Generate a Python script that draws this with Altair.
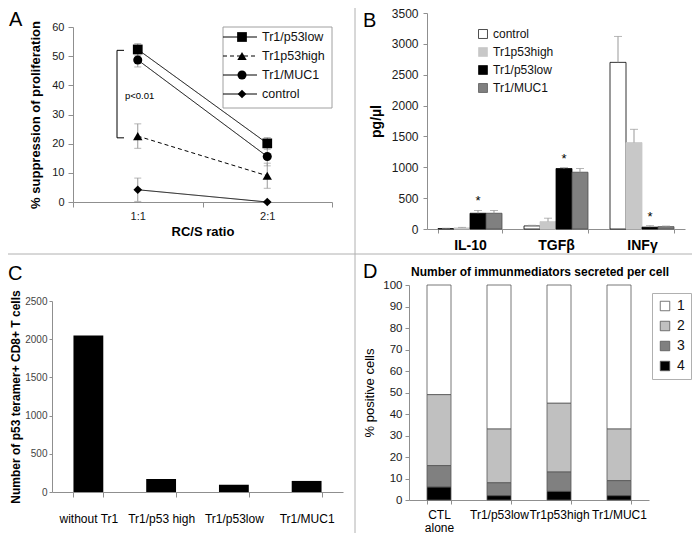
import altair as alt
import pandas as pd

FONT = "Liberation Sans"
AX = "#8f8f8f"
DIV = "#b0b0b0"
W, H = 684, 525

# ---------------- Panel A data ----------------
a_ratio = ["1:1", "2:1"]
a_series = ["Tr1/p53low", "Tr1p53high", "Tr1/MUC1", "control"]
a_p53low = [52.3, 20.1]
a_p53low_err = [2.0, 2.0]
a_p53high = [22.6, 9.0]
a_p53high_err = [4.2, 4.3]
a_muc1 = [48.7, 15.6]
a_muc1_err = [2.4, 3.2]
a_control = [4.2, 0.0]
a_control_err = [4.0, 0.0]
a_bracket = [52.0, 22.0]
a_bracket_label = "p<0.01"
a_shapes = ["square", "triangle-up", "circle", "diamond"]
a_sizes = [95, 75, 70, 70]
a_dash = [[1, 0], [4, 3], [1, 0], [1, 0]]

# ---------------- Panel B data ----------------
b_cyto = ["IL-10", "TGFβ", "INFγ"]
b_groups = ["control", "Tr1p53high", "Tr1/p53low", "Tr1/MUC1"]
b_control = [8, 50, 2700]
b_control_err = [4, 10, 420]
b_high = [18, 120, 1400]
b_high_err = [8, 55, 215]
b_low = [255, 980, 30]
b_low_err = [45, 15, 25]
b_muc1 = [255, 920, 38]
b_muc1_err = [45, 60, 10]
b_fill = ["#ffffff", "#c8c8c8", "#000000", "#808080"]
b_stroke = ["#000000", "#c8c8c8", "#000000", "#4d4d4d"]

# ---------------- Panel C data ----------------
c_cats = ["without Tr1", "Tr1/p53 high", "Tr1/p53low", "Tr1/MUC1"]
c_vals = [2050, 170, 95, 145]

# ---------------- Panel D data ----------------
d_cats = ["CTL alone", "Tr1/p53low", "Tr1p53high", "Tr1/MUC1"]
d_levels = ["1", "2", "3", "4"]
d_1 = [51, 67, 55, 67]
d_2 = [33, 25, 32, 24]
d_3 = [10, 6, 9, 7]
d_4 = [6, 2, 4, 2]
d_fill = ["#ffffff", "#c0c0c0", "#808080", "#000000"]
d_title = "Number of immunmediators secreted per cell"

one = pd.DataFrame({"z": [0]})


def label_text(t, x, y, size=20, weight="normal", align="left"):
    return alt.Chart(one).mark_text(
        text=t, fontSize=size, fontWeight=weight, align=align, baseline="alphabetic", color="black"
    ).encode(x=alt.value(x), y=alt.value(y))


# plot-area rectangles inside the 684x525 drawing (left, right, top, bottom)
AL, AR, AT, AB = 65, 324, 19, 194
BL, BR, BT, BB = 419, 677, 5, 221
CL, CR, CT, CB = 44, 335, 293, 484
DL, DR, DT, DB = 401, 641, 277, 492

# ================= Panel A =================
rows = []
for s, vals, errs in zip(a_series, [a_p53low, a_p53high, a_muc1, a_control],
                         [a_p53low_err, a_p53high_err, a_muc1_err, a_control_err]):
    for r, v, e in zip(a_ratio, vals, errs):
        rows.append(dict(series=s, ratio=r, value=v, err=e, lo=v - e, hi=v + e))
dfA = pd.DataFrame(rows)

xA = alt.X("ratio:N",
           scale=alt.Scale(type="band", domain=a_ratio, range=[AL, AR], paddingInner=0, paddingOuter=0),
           axis=alt.Axis(orient="bottom", offset=AB - H, title="RC/S ratio", labelAngle=0,
                         tickBand="extent", tickSize=5, labelPadding=3, titlePadding=4,
                         labelFontSize=11, titleFontSize=13))
yA = alt.Y("value:Q", scale=alt.Scale(domain=[0, 60], range=[AB, AT], nice=False),
           axis=alt.Axis(orient="left", offset=-AL, values=list(range(0, 61, 10)), format="d",
                         title="% suppression of proliferation", tickSize=5, labelPadding=4,
                         titlePadding=9, labelFontSize=11, titleFontSize=13))
dashA = alt.StrokeDash("series:N", scale=alt.Scale(domain=a_series, range=a_dash), legend=None)
shapeA = alt.Shape("series:N", scale=alt.Scale(domain=a_series, range=a_shapes), legend=None)
sizeA = alt.Size("series:N", scale=alt.Scale(domain=a_series, range=a_sizes), legend=None)

baseA = alt.Chart(dfA)
errA = baseA.transform_filter("datum.err > 0").mark_rule(color="#999999").encode(
    x=xA, y=alt.Y("lo:Q"), y2="hi:Q")
capLoA = baseA.transform_filter("datum.err > 0").mark_tick(color="#999999", size=7, thickness=1).encode(
    x=xA, y="lo:Q")
capHiA = baseA.transform_filter("datum.err > 0").mark_tick(color="#999999", size=7, thickness=1).encode(
    x=xA, y="hi:Q")
linesA = baseA.mark_line(color="black", strokeWidth=1).encode(
    x=xA, y=yA, detail="series:N", strokeDash=dashA)
ptsA = baseA.mark_point(filled=True, opacity=1, color="black").encode(
    x=xA, y="value:Q", shape=shapeA, size=sizeA)

dfBr = pd.DataFrame({"top": [a_bracket[0]], "bot": [a_bracket[1]],
                     "mid": [sum(a_bracket) / 2], "label": [a_bracket_label]})
brV = alt.Chart(dfBr).mark_rule(color="black").encode(x=alt.value(AL + 44), y="top:Q", y2="bot:Q")
brH = alt.Chart(pd.DataFrame({"v": a_bracket})).mark_rule(color="black").encode(
    x=alt.value(AL + 44), x2=alt.value(AL + 51), y="v:Q")
brT = alt.Chart(dfBr).mark_text(align="left", baseline="middle", fontSize=9.5, dy=2).encode(
    x=alt.value(AL + 52), y="mid:Q", text="label:N")

mainA = alt.layer(errA, capLoA, capHiA, linesA, ptsA, brV, brH, brT)

dfLeg = pd.DataFrame({"series": a_series})
yLeg = alt.Y("series:N", scale=alt.Scale(type="point", domain=a_series, range=[29, 86], padding=0),
             axis=None)
legBox = alt.Chart(one).mark_rect(fill="white", stroke="#a0a0a0", strokeWidth=1).encode(
    x=alt.value(215), x2=alt.value(324), y=alt.value(19), y2=alt.value(100))
legLine = alt.Chart(dfLeg).mark_rule(color="black", strokeWidth=1).encode(
    x=alt.value(215), x2=alt.value(249), y=yLeg, strokeDash=dashA)
legPts = alt.Chart(dfLeg).mark_point(filled=True, opacity=1, color="black").encode(
    x=alt.value(234), y=yLeg, shape=shapeA, size=sizeA)
legTxt = alt.Chart(dfLeg).mark_text(align="left", baseline="middle", fontSize=12.5, color="#111").encode(
    x=alt.value(254), y=yLeg, text="series:N")
legA = alt.layer(legBox, legLine, legPts, legTxt)

A = alt.layer(mainA, legA).resolve_scale(y="independent")

# ================= Panel B =================
rows = []
for g, vals, errs in zip(b_groups, [b_control, b_high, b_low, b_muc1],
                         [b_control_err, b_high_err, b_low_err, b_muc1_err]):
    for c, v, e in zip(b_cyto, vals, errs):
        rows.append(dict(group=g, cyto=c, value=v, hi=v + e))
dfB = pd.DataFrame(rows)

xB = alt.X("cyto:N", scale=alt.Scale(domain=b_cyto, range=[BL, BR], paddingInner=0.256, paddingOuter=0.128),
           axis=alt.Axis(orient="bottom", offset=BB - H, title=None, labelAngle=0, labelFontWeight="bold",
                         labelFontSize=14, labelColor="black", tickBand="extent", tickSize=4,
                         labelPadding=5))
xoB = alt.XOffset("group:N", scale=alt.Scale(domain=b_groups, paddingInner=0, paddingOuter=0))
yB = alt.Y("value:Q", scale=alt.Scale(domain=[0, 3500], range=[BB, BT], nice=False),
           axis=alt.Axis(orient="left", offset=-BL, values=list(range(0, 3501, 500)), format="d",
                         title="pg/µl", titleFontSize=14, tickSize=4, labelPadding=5,
                         labelFontSize=12, titlePadding=8))
legB = alt.Legend(orient="none", legendX=469, legendY=20, title=None, symbolType="square",
                  symbolSize=80, labelFontSize=12, labelColor="#111", rowPadding=6,
                  symbolStrokeColor="#666666", symbolStrokeWidth=0.7)
baseB = alt.Chart(dfB)
barsB = baseB.mark_bar(strokeWidth=0.8).encode(
    x=xB, xOffset=xoB, y=yB,
    fill=alt.Fill("group:N", scale=alt.Scale(domain=b_groups, range=b_fill), legend=legB),
    stroke=alt.Stroke("group:N", scale=alt.Scale(domain=b_groups, range=b_stroke), legend=None))
errB = baseB.mark_rule(color="#999999").encode(x=xB, xOffset=xoB, y="value:Q", y2="hi:Q")
capB = baseB.mark_tick(color="#999999", size=8, thickness=1).encode(x=xB, xOffset=xoB, y="hi:Q")
starB = baseB.transform_filter("datum.group == 'Tr1/p53low'").mark_text(
    text="*", fontSize=13, baseline="middle", dy=-9, color="black").encode(
    x=xB, xOffset=xoB, y="hi:Q")
B = alt.layer(barsB, errB, capB, starB)

# ================= Panel C =================
dfC = pd.DataFrame({"cat": c_cats, "value": c_vals})
xC = alt.X("cat:N", scale=alt.Scale(domain=c_cats, range=[CL, CR], paddingInner=0.59, paddingOuter=0.295),
           axis=alt.Axis(orient="bottom", offset=CB - H, title=None, labelAngle=0, tickBand="extent",
                         tickSize=5, labelPadding=16, labelFontSize=12, labelColor="black"))
yC = alt.Y("value:Q", scale=alt.Scale(domain=[0, 2500], range=[CB, CT], nice=False),
           axis=alt.Axis(orient="left", offset=-CL, values=list(range(0, 2501, 500)), format="d",
                         title="Number of p53 teramer+ CD8+ T cells", titleFontSize=12,
                         labelFontSize=10, labelColor="#444", tickSize=3, labelPadding=2,
                         titlePadding=2))
C = alt.Chart(dfC).mark_bar(color="black").encode(x=xC, y=yC)

# ================= Panel D =================
rows = []
for lvl, vals in zip(d_levels, [d_1, d_2, d_3, d_4]):
    for c, v in zip(d_cats, vals):
        rows.append(dict(cat=c, level=lvl, value=v, ord=4 - int(lvl)))
dfD = pd.DataFrame(rows)
xD = alt.X("cat:N", scale=alt.Scale(domain=d_cats, range=[DL, DR], paddingInner=0.6, paddingOuter=0.3),
           axis=alt.Axis(orient="bottom", offset=DB - H, title=None, labelAngle=0, tickBand="extent",
                         tickSize=4, labelPadding=5, labelFontSize=12, labelColor="black",
                         labelLineHeight=13,
                         labelExpr="datum.label == 'CTL alone' ? ['CTL', 'alone'] : datum.label"))
yD = alt.Y("value:Q", stack="zero", scale=alt.Scale(domain=[0, 100], range=[DB, DT], nice=False),
           axis=alt.Axis(orient="left", offset=-DL, values=list(range(0, 101, 10)), format="d",
                         title="% positive cells", titleFontSize=13, titleFontWeight="normal",
                         labelFontSize=11.5, tickSize=4, labelPadding=3, titlePadding=6))
legD = alt.Legend(orient="none", legendX=644, legendY=285, title=None, symbolType="square",
                  symbolSize=90, symbolStrokeColor="#555555", symbolStrokeWidth=0.8,
                  labelFontSize=14, labelColor="#111", padding=6, strokeColor="#b0b0b0",
                  rowPadding=6, labelOffset=5)
D = alt.Chart(dfD).mark_bar(stroke="#555555", strokeWidth=0.8).encode(
    x=xD, y=yD,
    fill=alt.Fill("level:N", scale=alt.Scale(domain=d_levels, range=d_fill), legend=legD),
    order=alt.Order("ord:Q"))

# ================= Decorations =================
divV = alt.Chart(one).mark_rule(color=DIV, strokeWidth=1).encode(
    x=alt.value(347), y=alt.value(0), y2=alt.value(H))
divH = alt.Chart(one).mark_rule(color=DIV, strokeWidth=1).encode(
    x=alt.value(0), x2=alt.value(W), y=alt.value(246))
deco = alt.layer(
    divV, divH,
    label_text("A", 1, 18), label_text("B", 355, 19),
    label_text("C", 0, 272), label_text("D", 355, 270),
    label_text(d_title, 532, 268, size=12, weight="bold", align="center"),
)

chart = alt.layer(A, B, C, D, deco).resolve_scale(
    x="independent", y="independent", fill="independent", stroke="independent"
).properties(
    width=W, height=H, padding=0, background="white",
    autosize=alt.AutoSizeParams(type="none"),
).configure(font=FONT).configure_view(stroke="transparent").configure_axis(
    domainColor=AX, tickColor=AX, grid=False, labelFont=FONT, titleFont=FONT,
    titleFontWeight="bold", titleColor="black", labelColor="#1a1a1a"
).configure_legend(labelFont=FONT)

chart.save("out.html", embed_options={"renderer": "svg", "actions": False})
